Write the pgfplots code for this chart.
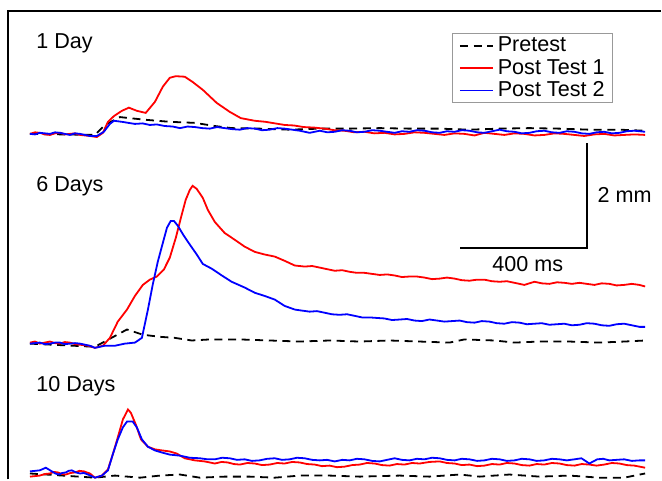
\documentclass[border=0pt]{standalone}
\usepackage{pgfplots}
\pgfplotsset{compat=1.18}
\usepackage{fontspec}
\setmainfont{Liberation Sans}

% vertical offsets of the three sessions (mm, in plot units)
\def\offA{6.590}
\def\offB{2.590}
\def\offC{0.114}

\begin{document}
\begin{tikzpicture}[font=\fontsize{10.8pt}{13pt}\selectfont]
\begin{axis}[
  scale only axis, width=331pt, height=240pt,
  xmin=-94.5, xmax=1990.8, ymin=0, ymax=9.1429,
  axis lines=none, clip mode=individual,
  pretest/.style={black, line width=0.9pt, dash pattern=on 4pt off 2.8pt},
  post1/.style={red, line width=0.9pt},
  post2/.style={blue, line width=0.9pt},
  legend style={at={(rel axis cs:0.6828,0.9313)}, anchor=north west,
    draw=gray!80, line width=0.6pt, inner xsep=3.5pt, inner ysep=0.5pt,
    row sep=0pt, nodes={inner xsep=0.5pt, inner ysep=1pt, text height=7.6pt, text depth=1.6pt}},
  legend cell align=left,
  legend image code/.code={\draw[#1] (0pt,0pt) -- (16.5pt,0pt); \path (18pt,0pt);},
]
\path (rel axis cs:0,0) (rel axis cs:1,1);

% ---------- 1 Day ----------
\addplot[pretest] table[x=t, y expr=\thisrow{d}+\offA] {
t d
0 0
205 -0.02
236 0.17
284 0.32
362 0.27
441 0.23
520 0.21
583 0.15
636 0.11
725 0.10
819 0.08
914 0.10
1008 0.10
1103 0.11
1197 0.10
1292 0.10
1386 0.08
1481 0.10
1575 0.11
1670 0.10
1764 0.08
1859 0.08
1940 0.06
};
\addlegendentry{Pretest}
\addplot[post1] table[x=t, y expr=\thisrow{d}+\offA] {
t d
0 0.00
16 0.03
31 0.02
47 -0.01
63 -0.02
79 0.01
95 0.02
110 -0.01
126 0
142 0.01
158 -0.02
174 -0.03
189 -0.04
211 -0.06
230 0.02
246 0.23
265 0.34
290 0.44
312 0.50
337 0.44
365 0.40
394 0.61
419 0.90
441 1.07
460 1.10
488 1.09
513 0.99
545 0.84
589 0.59
630 0.42
665 0.30
709 0.25
743 0.23
773 0.20
803 0.17
833 0.16
863 0.13
896 0.12
929 0.10
960 0.07
992 0.06
1023 0.03
1055 0.04
1086 0.01
1118 0.02
1150 -0.01
1181 0
1213 0.03
1244 0.02
1276 0.00
1307 -0.02
1339 0.01
1370 0
1402 -0.03
1433 0.02
1465 0.00
1496 -0.02
1528 0.01
1559 0
1591 -0.03
1622 -0.02
1654 0.01
1685 0
1717 -0.02
1748 -0.04
1780 -0.01
1811 0
1843 -0.03
1874 -0.02
1906 -0.01
1940 -0.02
};
\addlegendentry{Post Test 1}
\addplot[post2] table[x=t, y expr=\thisrow{d}+\offA] {
t d
0 0
16 -0.01
31 0.02
47 0.01
63 0
79 0.03
95 0.02
110 0.00
126 -0.02
142 0.01
158 0
174 -0.02
189 -0.04
211 -0.04
233 0.04
252 0.19
265 0.25
290 0.23
310 0.21
331 0.19
355 0.20
378 0.17
400 0.18
425 0.15
450 0.14
473 0.11
497 0.14
520 0.13
543 0.11
567 0.10
590 0.13
614 0.11
638 0.09
662 0.08
685 0.11
709 0.10
732 0.07
756 0.08
780 0.11
803 0.10
827 0.08
851 0.06
882 0.02
914 0.06
938 0.03
961 0.04
985 0.07
1008 0.06
1031 0.03
1055 0.04
1079 0.07
1103 0.06
1126 0.04
1150 0.02
1173 0.05
1197 0.04
1220 0.07
1244 0.06
1268 0.03
1292 0.02
1315 0.05
1339 0.04
1362 0.07
1386 0.06
1410 0.03
1433 0.02
1457 0.05
1481 0.08
1504 0.05
1528 0.04
1551 0.01
1575 0.02
1598 0.05
1622 0.06
1646 0.03
1670 0.02
1693 0.05
1717 0.04
1740 0.01
1764 0
1787 0.03
1811 0.04
1835 0.01
1859 0.02
1882 0.05
1906 0.06
1940 0.04
};
\addlegendentry{Post Test 2}

% ---------- 6 Days ----------
\addplot[pretest, forget plot] table[x=t, y expr=\thisrow{d}+\offB] {
t d
0 0
205 -0.06
306 0.27
356 0.17
410 0.13
457 0.11
510 0.06
567 0.08
662 0.08
756 0.06
851 0.04
945 0.06
1040 0.04
1134 0.06
1229 0.04
1323 0.02
1370 0.08
1465 0.06
1528 0.02
1607 0.04
1701 0.04
1796 0.02
1874 0.04
1940 0.06
};
\addplot[post1, forget plot] table[x=t, y expr=\thisrow{d}+\offB] {
t d
0 0.02
16 0.04
31 0
47 0.02
63 0.04
79 0.01
95 0
110 0.03
126 0.02
142 -0.01
158 -0.02
183 -0.04
205 -0.08
230 -0.04
252 0.11
277 0.42
306 0.65
331 0.91
356 1.12
378 1.22
400 1.28
422 1.41
441 1.64
460 2.02
476 2.40
491 2.74
504 2.93
513 3.01
526 2.95
545 2.78
561 2.55
583 2.32
614 2.11
646 1.98
677 1.85
709 1.75
740 1.70
772 1.66
803 1.58
835 1.49
866 1.47
890 1.48
914 1.45
937 1.42
961 1.39
985 1.40
1008 1.37
1031 1.35
1055 1.35
1079 1.33
1103 1.31
1126 1.32
1150 1.30
1173 1.27
1197 1.28
1220 1.28
1244 1.26
1268 1.23
1292 1.24
1315 1.26
1339 1.24
1362 1.21
1386 1.20
1410 1.22
1433 1.22
1457 1.19
1481 1.18
1504 1.19
1528 1.16
1559 1.12
1591 1.18
1614 1.15
1638 1.14
1662 1.17
1685 1.16
1709 1.14
1733 1.16
1756 1.14
1780 1.12
1803 1.15
1827 1.14
1850 1.11
1874 1.12
1898 1.14
1922 1.12
1940 1.09
};
\addplot[post2, forget plot] table[x=t, y expr=\thisrow{d}+\offB] {
t d
0 0
16 0.01
31 0.02
47 -0.01
63 0
79 0.02
95 0.02
110 -0.01
126 0
142 0.01
158 0
189 -0.04
205 -0.08
236 -0.04
268 -0.04
299 0
331 0.02
353 0.11
372 0.65
387 1.12
403 1.56
419 1.92
432 2.21
444 2.34
454 2.34
466 2.25
485 2.06
504 1.89
526 1.70
545 1.52
573 1.43
605 1.30
636 1.18
677 1.07
709 0.97
740 0.91
772 0.84
803 0.72
835 0.65
858 0.63
882 0.61
905 0.62
929 0.59
952 0.56
976 0.55
1000 0.56
1024 0.53
1047 0.50
1071 0.50
1094 0.49
1118 0.48
1142 0.45
1166 0.46
1189 0.47
1213 0.44
1236 0.43
1260 0.46
1284 0.44
1307 0.42
1331 0.43
1355 0.44
1378 0.41
1402 0.40
1425 0.43
1449 0.42
1472 0.39
1496 0.38
1520 0.41
1544 0.40
1567 0.37
1591 0.38
1614 0.39
1638 0.36
1662 0.37
1685 0.38
1709 0.35
1733 0.36
1756 0.39
1780 0.38
1803 0.35
1827 0.34
1850 0.37
1874 0.38
1898 0.35
1922 0.32
1940 0.32
};

% ---------- 10 Days ----------
\addplot[pretest, forget plot] table[x=t, y expr=\thisrow{d}+\offC] {
t d
0 0
205 -0.08
268 -0.04
347 -0.08
410 -0.04
473 -0.02
536 -0.08
614 -0.06
693 -0.06
772 -0.08
851 -0.04
945 -0.04
1040 -0.06
1166 -0.04
1260 -0.06
1355 -0.02
1418 -0.06
1512 -0.02
1607 -0.06
1701 -0.04
1796 -0.08
1874 -0.08
1940 0
};
\addplot[post1, forget plot] table[x=t, y expr=\thisrow{d}+\offC] {
t d
0 -0.06
16 -0.05
31 -0.04
47 -0.01
63 0
75 0.03
88 0.02
100 -0.01
113 -0.02
128 0.01
142 0.02
156 0.05
170 0.04
189 0
205 -0.08
227 -0.04
246 0.08
261 0.36
277 0.69
293 1.03
309 1.22
318 1.16
334 0.93
350 0.65
372 0.51
394 0.46
416 0.44
441 0.42
463 0.38
488 0.29
520 0.25
551 0.23
583 0.19
604 0.22
624 0.21
643 0.18
662 0.17
686 0.20
709 0.19
732 0.16
756 0.17
780 0.20
803 0.19
827 0.22
851 0.21
874 0.18
898 0.17
921 0.14
945 0.15
968 0.12
992 0.13
1016 0.16
1040 0.17
1063 0.20
1087 0.19
1110 0.16
1134 0.15
1157 0.18
1181 0.17
1205 0.20
1229 0.19
1260 0.22
1292 0.23
1315 0.20
1339 0.19
1362 0.16
1386 0.17
1410 0.14
1433 0.15
1457 0.18
1481 0.17
1504 0.20
1528 0.19
1551 0.16
1575 0.15
1598 0.18
1622 0.17
1646 0.20
1670 0.19
1693 0.16
1717 0.15
1740 0.18
1764 0.17
1787 0.15
1811 0.17
1835 0.20
1859 0.19
1882 0.16
1906 0.15
1940 0.11
};
\addplot[post2, forget plot] table[x=t, y expr=\thisrow{d}+\offC] {
t d
0 0.04
16 0.05
31 0.06
50 0.11
69 0.04
80 0.00
91 -0.02
102 0.01
113 0.02
122 0.05
132 0.06
145 0.02
158 0
170 0.01
183 -0.02
205 -0.08
227 -0.04
246 0.06
261 0.36
277 0.65
293 0.88
306 0.99
324 0.99
337 0.88
353 0.65
372 0.51
394 0.44
416 0.40
441 0.36
473 0.34
504 0.30
536 0.29
560 0.27
583 0.27
606 0.30
630 0.29
653 0.26
677 0.27
700 0.24
724 0.25
748 0.28
772 0.29
795 0.26
819 0.27
842 0.30
866 0.29
890 0.26
914 0.25
937 0.26
961 0.23
985 0.26
1008 0.25
1031 0.28
1055 0.27
1079 0.24
1103 0.23
1126 0.26
1150 0.29
1173 0.26
1197 0.25
1220 0.28
1244 0.27
1268 0.30
1292 0.29
1315 0.26
1339 0.25
1362 0.28
1386 0.27
1410 0.24
1433 0.25
1457 0.28
1481 0.27
1504 0.24
1528 0.25
1551 0.28
1575 0.27
1598 0.24
1622 0.25
1646 0.28
1670 0.27
1693 0.25
1717 0.27
1739 0.29
1764 0.19
1789 0.27
1808 0.28
1827 0.25
1850 0.26
1874 0.27
1898 0.24
1922 0.25
1940 0.25
};

% frame, session labels and scale bars
\draw[line width=0.75pt] (rel axis cs:0.0121,0) -- (rel axis cs:0.0121,0.9771) -- (rel axis cs:1,0.9771);
\node[anchor=base west, inner sep=0pt] at (axis cs:19,8.210) {1 Day};
\node[anchor=base west, inner sep=0pt] at (axis cs:19,5.486) {6 Days};
\node[anchor=base west, inner sep=0pt] at (axis cs:19,1.676) {10 Days};
\draw[line width=1pt] (axis cs:1357.7,4.419) -- (axis cs:1757.7,4.419) -- (axis cs:1757.7,6.419);
\node[anchor=west, inner sep=0pt] at (axis cs:1789,5.419) {2 mm};
\node[anchor=north, inner sep=0pt] at (axis cs:1570,4.27) {400 ms};
\end{axis}
\end{tikzpicture}
\end{document}
